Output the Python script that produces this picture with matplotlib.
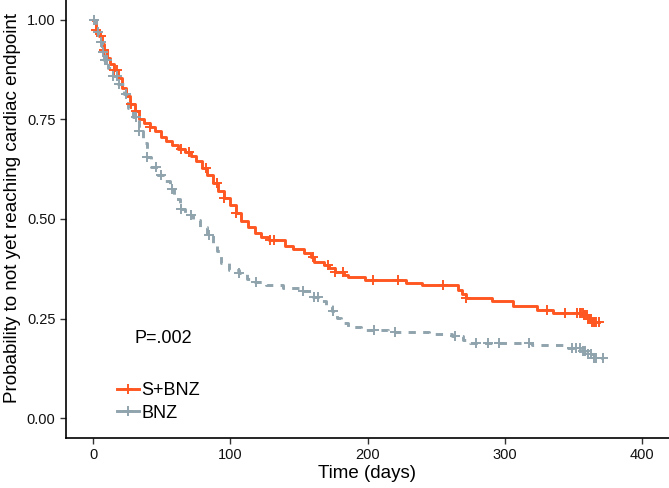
import numpy as np
import matplotlib
matplotlib.use("Agg")
import matplotlib.pyplot as plt
from matplotlib.lines import Line2D

plt.rcParams['font.family'] = ['Liberation Sans', 'DejaVu Sans']

# Kaplan-Meier step knots (time in days, survival)
sb_time = [0, 2, 4, 6, 8, 10, 12, 15, 18, 21, 24, 27, 30, 33, 37, 41, 45, 49, 53, 57,
           62, 67, 71, 75, 79, 83, 87, 91, 95, 100, 104, 108, 113, 118, 122, 128, 140,
           146, 154, 159, 161, 168, 172, 176, 183, 186, 198, 228, 240, 266, 269, 272,
           291, 306, 324, 335, 358, 361, 364, 369]
sb_surv = [1.0, 0.975, 0.96, 0.94, 0.925, 0.905, 0.89, 0.875, 0.855, 0.83, 0.81, 0.79,
           0.77, 0.75, 0.74, 0.73, 0.72, 0.705, 0.695, 0.685, 0.675, 0.668, 0.658, 0.645,
           0.628, 0.61, 0.59, 0.57, 0.552, 0.535, 0.515, 0.495, 0.48, 0.465, 0.455, 0.448,
           0.432, 0.425, 0.415, 0.405, 0.392, 0.385, 0.377, 0.368, 0.36, 0.354, 0.348,
           0.34, 0.334, 0.322, 0.312, 0.302, 0.293, 0.282, 0.272, 0.265, 0.258, 0.25,
           0.242, 0.242]
sb_cens = [2, 5.5, 8, 15, 17.5, 27.5, 31, 41, 64, 70, 82, 90.5, 95.5, 104, 128.5, 132,
           160, 171, 176, 182, 204, 222, 255, 272, 331, 344, 353, 355, 356, 357, 358, 359,
           360, 361, 362, 363, 364, 365, 366, 367, 369]

bnz_time = [0, 2, 4, 6, 8, 11, 14, 18, 22, 25, 29, 33, 36, 39, 42, 46, 52, 56, 59, 63,
            67, 73, 78, 83, 87, 90, 93, 99, 106, 112, 118, 126, 138, 150, 160, 166, 170,
            174, 178, 181, 186, 195, 215, 245, 262, 270, 275, 320, 345, 356, 361, 365, 372]
bnz_surv = [1.0, 0.97, 0.945, 0.92, 0.9, 0.88, 0.86, 0.84, 0.815, 0.78, 0.755, 0.72,
            0.69, 0.655, 0.63, 0.61, 0.595, 0.575, 0.55, 0.525, 0.51, 0.498, 0.48, 0.46,
            0.44, 0.42, 0.39, 0.373, 0.364, 0.35, 0.342, 0.333, 0.326, 0.318, 0.305,
            0.295, 0.282, 0.268, 0.252, 0.24, 0.228, 0.222, 0.217, 0.212, 0.205, 0.195,
            0.188, 0.183, 0.176, 0.168, 0.16, 0.15, 0.15]
bnz_cens = [0.7, 3.6, 5.6, 6.8, 8.8, 10, 14, 17.5, 19, 24, 31, 33.6, 39, 45.7, 49.4,
            57.7, 64, 71, 84.7, 106.6, 119, 152.6, 161, 164, 175, 205, 220, 263.5, 279.5,
            288, 296, 318, 349, 352, 355, 357, 359, 361, 363, 365, 367, 371.5]

groups = ['S+BNZ', 'BNZ']
colors = ['#FF5722', '#90A4AE']
styles = ['-', (0, (2.5, 2.5))]


def surv_at(t, times, surv):
    idx = np.searchsorted(times, t, side='right') - 1
    return np.asarray(surv)[idx]


fig = plt.figure(figsize=(6.69, 4.88), dpi=100)
ax = fig.add_axes([66 / 669, 50 / 488, 603 / 669, 438 / 488])

data = [(sb_time, sb_surv, sb_cens), (bnz_time, bnz_surv, bnz_cens)]
handles = []
for (t, s, c), name, col, ls in zip(data, groups, colors, styles):
    ax.step(t, s, where='post', color=col, lw=2.1, linestyle=ls, zorder=3)
    ax.plot(c, surv_at(c, t, s), linestyle='none', marker='+', ms=7.5, mew=1.4,
            color=col, zorder=4)
    handles.append(Line2D([], [], color=col, lw=2.1, marker='+', ms=7.5, mew=1.4))

ax.set_xlim(-20, 420)
ax.set_ylim(-0.05, 1.05)
ax.set_xticks([0, 100, 200, 300, 400])
ax.set_yticks([0, 0.25, 0.5, 0.75, 1.0])
ax.set_yticklabels(['0.00', '0.25', '0.50', '0.75', '1.00'])
ax.tick_params(labelsize=10.5, length=4, width=1, color='#333333', labelcolor='#111111')

for side in ['top', 'right']:
    ax.spines[side].set_visible(False)
for side in ['left', 'bottom']:
    ax.spines[side].set_linewidth(1.2)
    ax.spines[side].set_color('black')

ax.set_xlabel('Time (days)', fontsize=13.5, labelpad=2)
ax.set_ylabel('Probability to not yet reaching cardiac endpoint', fontsize=13.6)
ax.yaxis.set_label_coords(-0.074, 0.525)

ax.text(30, 0.20, 'P=.002', fontsize=13, ha='left', va='center')

ax.legend(handles, groups, loc='lower left', bbox_to_anchor=(0.058, 0.0), frameon=False,
          fontsize=13, handlelength=1.2, handletextpad=0.15, labelspacing=0.3)

fig.savefig('out.png', dpi=100)
